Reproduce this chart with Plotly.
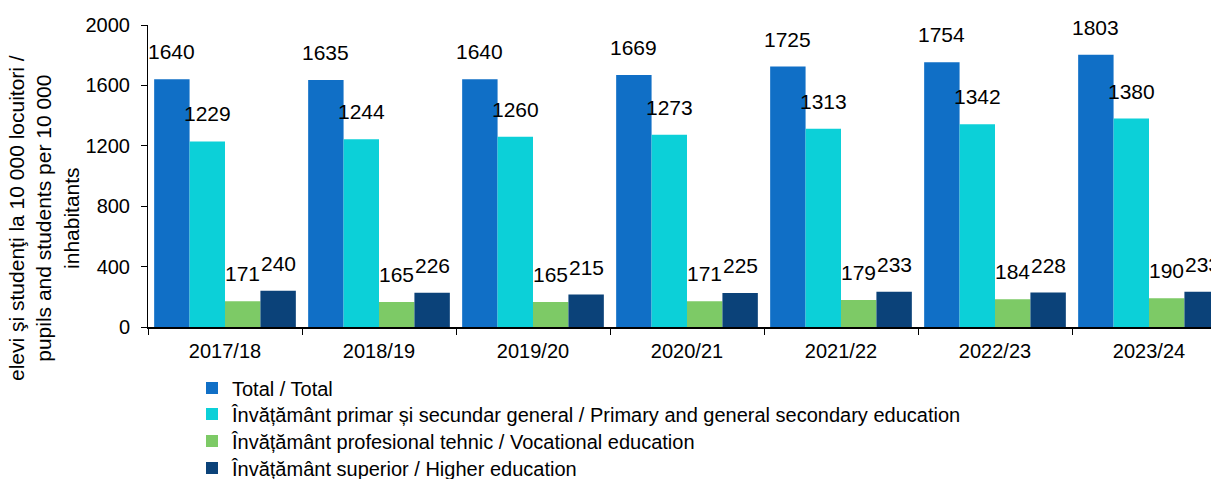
import plotly.graph_objects as go

categories = ["2017/18", "2018/19", "2019/20", "2020/21", "2021/22", "2022/23", "2023/24"]
series_names = [
    "Total / Total",
    "Învățământ primar și secundar general / Primary and general secondary education",
    "Învățământ profesional tehnic / Vocational education",
    "Învățământ superior / Higher education",
]
total = [1640, 1635, 1640, 1669, 1725, 1754, 1803]
primary_secondary = [1229, 1244, 1260, 1273, 1313, 1342, 1380]
vocational = [171, 165, 165, 171, 179, 184, 190]
higher = [240, 226, 215, 225, 233, 228, 233]
y_ticks = [0, 400, 800, 1200, 1600, 2000]
y_title = "elevi şi studenţi la 10 000 locuitori /<br>pupils and students per 10 000<br>inhabitants"
colors = ["#106FC6", "#0CD0D8", "#7DCA66", "#0B4279"]

FONT = "Liberation Sans, Arial, sans-serif"
BARGAP = 0.08
series = [total, primary_secondary, vocational, higher]
n = len(series)
w = (1 - BARGAP) / n

# the page body has an 8px margin, so the figure is 8px smaller than the window
FIG_W, FIG_H = 1211, 471
M_L, M_R, M_T, M_B = 140, 0, 17, 152
plot_w = FIG_W - M_L - M_R
cat_px = 154

fig = go.Figure()
annotations = []
legend_ids = ["legend", "legend2", "legend3", "legend4"]
for j, (name, vals, col) in enumerate(zip(series_names, series, colors)):
    fig.add_trace(go.Bar(
        x=list(range(len(categories))), y=vals, name=name,
        marker_color=col, marker_line_width=0, legend=legend_ids[j],
    ))
    for i, v in enumerate(vals):
        annotations.append(dict(
            x=i + (j - (n - 1) / 2) * w, y=v, xref="x", yref="y",
            text=str(v), showarrow=False, yanchor="bottom", yshift=14,
            font=dict(size=21, color="#000000", family=FONT),
        ))

annotations.append(dict(
    text=y_title, textangle=-90, showarrow=False,
    xref="paper", yref="paper", x=(36 - M_L) / plot_w, y=(FIG_H - M_B - 210) / (FIG_H - M_T - M_B),
    xanchor="center", yanchor="middle", align="center",
    font=dict(size=21, color="#000000", family=FONT),
))

legend_tops = [360.5, 386.5, 413.5, 440.5]
legend_layout = {}
for lid, top in zip(legend_ids, legend_tops):
    legend_layout[lid] = dict(
        orientation="v", xref="paper", x=(184 - M_L) / plot_w, xanchor="left",
        yref="container", y=1 - top / FIG_H, yanchor="top",
        font=dict(size=20, family=FONT, color="#000000"),
        itemwidth=30, bgcolor="rgba(0,0,0,0)",
    )

fig.update_layout(
    width=FIG_W, height=FIG_H,
    margin=dict(l=M_L, r=M_R, t=M_T, b=M_B),
    plot_bgcolor="white", paper_bgcolor="white",
    barmode="group", bargap=BARGAP, bargroupgap=0,
    font=dict(family=FONT, size=20, color="#000000"),
    annotations=annotations,
    showlegend=True,
    **legend_layout,
)
fig.update_yaxes(
    range=[0, 2000], tickvals=y_ticks,
    showgrid=False, zeroline=False, showline=True, linecolor="#000000", linewidth=1,
    ticks="outside", ticklen=6, tickcolor="#000000", ticklabelstandoff=7,
    tickfont=dict(size=20, family=FONT), automargin=False,
)
fig.update_xaxes(
    tickmode="array", tickvals=list(range(len(categories))), ticktext=categories,
    range=[-0.5, -0.5 + plot_w / cat_px],
    showgrid=False, zeroline=False, showline=True, linecolor="#000000", linewidth=2,
    ticks="", ticklabelstandoff=5, tickfont=dict(size=20, family=FONT), automargin=False,
    minor=dict(tickmode="array", tickvals=[i - 0.5 for i in range(len(categories) + 1)],
               ticks="outside", ticklen=6, tickcolor="#000000", showgrid=False),
)
fig.write_html("out.html")
